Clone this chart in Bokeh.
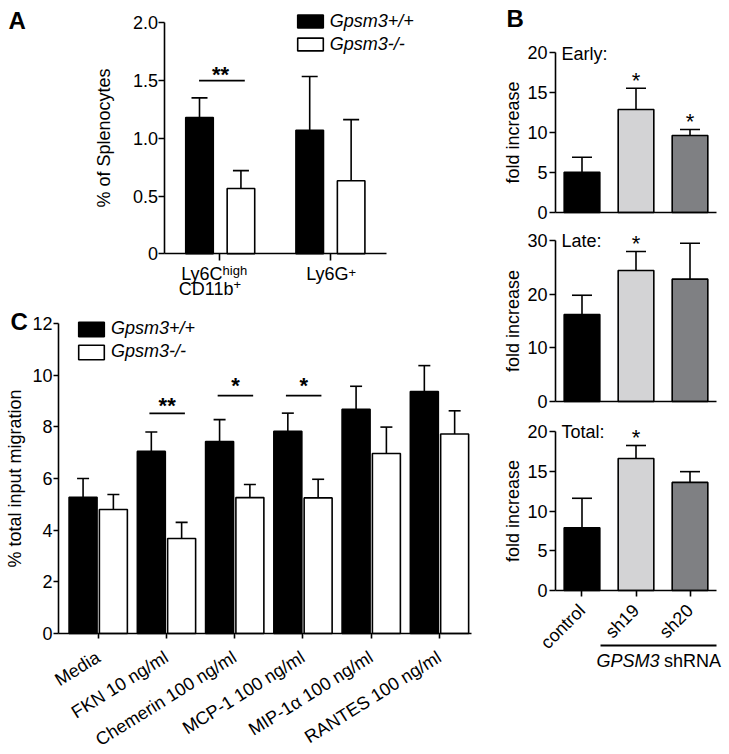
import math
import numpy as np
from bokeh.plotting import figure
from bokeh.models import (ColumnDataSource, Range1d, FixedTicker, Label, Legend, LegendItem,
                          Whisker, TeeHead, Arrow, CustomJSTickFormatter, LinearAxis)
from bokeh.embed import file_html
from bokeh.resources import INLINE

FONT = "Liberation Sans"

# ---------------- Panel A data ----------------
a_categories = ["Ly6C high CD11b+", "Ly6G+"]
a_label_main = ["Ly6C", "CD11b", "Ly6G"]
a_label_sup = ["high", "+", "+"]
a_wt_mean = [1.18, 1.07]
a_wt_sem = [0.17, 0.465]
a_ko_mean = [0.565, 0.632]
a_ko_sem = [0.155, 0.53]
a_sig_index = [0]
a_sig_height = [1.5]
a_sig_text = ["**"]
a_yticks = [0, 0.5, 1.0, 1.5, 2.0]
a_legend = ["Gpsm3+/+", "Gpsm3-/-"]

# ---------------- Panel B data ----------------
b_categories = ["control", "sh19", "sh20"]
b_colors = ["#000000", "#d3d3d5", "#7f8083"]
b_early_mean = [5.04, 12.88, 9.62]
b_early_sem = [1.87, 2.66, 0.75]
b_early_sig = ["", "*", "*"]
b_late_mean = [16.2, 24.4, 22.8]
b_late_sem = [3.6, 3.55, 6.7]
b_late_sig = ["", "*", ""]
b_total_mean = [7.9, 16.6, 13.6]
b_total_sem = [3.7, 1.64, 1.35]
b_total_sig = ["", "*", ""]

# ---------------- Panel C data ----------------
c_categories = ["Media", "FKN 10 ng/ml", "Chemerin 100 ng/ml", "MCP-1 100 ng/ml",
                "MIP-1\u03b1 100 ng/ml", "RANTES 100 ng/ml"]
c_wt_mean = [5.27, 7.05, 7.43, 7.83, 8.68, 9.37]
c_wt_sem = [0.73, 0.75, 0.85, 0.70, 0.89, 1.00]
c_ko_mean = [4.80, 3.68, 5.26, 5.25, 6.97, 7.72]
c_ko_sem = [0.58, 0.62, 0.51, 0.72, 1.02, 0.90]
c_sig_index = [1, 2, 3]
c_sig_height = [8.52, 9.21, 9.21]
c_sig_text = ["**", "*", "*"]
c_yticks = [0, 2, 4, 6, 8, 10, 12]

LW = 1.6
W, H = 729, 754
MARGIN = 0

p = figure(width=W, height=H, x_range=Range1d(0, W), y_range=Range1d(0, H),
           x_axis_type=None, y_axis_type=None, output_backend="svg",
           toolbar_location=None, min_border=0)
p.outline_line_color = None
p.background_fill_color = "white"
p.border_fill_color = "white"


def panel(name, xr, px_x, yr, px_y):
    """Create named ranges so that data range xr/yr falls on page pixels px_x/px_y."""
    x0, x1 = xr
    a0, a1 = px_x[0] - MARGIN, px_x[1] - MARGIN
    sx = (x1 - x0) / (a1 - a0)
    p.extra_x_ranges[name] = Range1d(x0 - a0 * sx, x0 + (W - a0) * sx)
    y0, y1 = yr
    b0, b1 = px_y[0] - MARGIN, px_y[1] - MARGIN   # b0: pixel of y0 (bottom), b1: pixel of y1
    sy = (y1 - y0) / (b0 - b1)
    d0 = H - b0
    p.extra_y_ranges[name] = Range1d(y0 - d0 * sy, y0 + (H - d0) * sy)


def style_axis(ax):
    ax.axis_line_width = LW
    ax.axis_line_color = "black"
    ax.major_tick_line_width = LW
    ax.major_tick_line_color = "black"
    ax.major_tick_in = 0
    ax.major_tick_out = 6
    ax.minor_tick_line_color = None
    ax.minor_tick_out = 0
    ax.major_label_text_font = FONT
    ax.major_label_text_font_size = "18px"
    ax.major_label_text_color = "black"
    ax.axis_label_text_font = FONT
    ax.axis_label_text_font_size = "18px"
    ax.axis_label_text_font_style = "normal"
    ax.axis_label_text_color = "black"


def axes(name, xr, yr, xticks, yticks, ylabel, xformatter=None, yformatter=None):
    xa = LinearAxis(x_range_name=name, y_range_name=name, fixed_location=yr[0],
                    bounds=xr, ticker=FixedTicker(ticks=xticks))
    ya = LinearAxis(x_range_name=name, y_range_name=name, fixed_location=xr[0],
                    bounds=yr, ticker=FixedTicker(ticks=yticks), axis_label=ylabel)
    style_axis(xa)
    style_axis(ya)
    if xformatter is not None:
        xa.formatter = xformatter
    if yformatter is not None:
        ya.formatter = yformatter
    p.add_layout(xa, "below")
    p.add_layout(ya, "left")
    return xa, ya


def lab(name, x, y, text, size="18px", style="normal", align="left", yo=0):
    p.add_layout(Label(x=x, y=y, text=text, x_range_name=name, y_range_name=name,
                       text_font=FONT, text_font_size=size, text_font_style=style,
                       text_align=align, text_baseline="middle", y_offset=yo,
                       text_color="black"))


def bars_with_err(name, x, mean, sem, width, fill, cap):
    up = np.add(mean, sem)
    src = ColumnDataSource(dict(x=x, top=mean, up=up, fill=fill))
    r = p.vbar(x="x", top="top", bottom=0, width=width, source=src, fill_color="fill",
               line_color="black", line_width=LW, x_range_name=name, y_range_name=name)
    p.add_layout(Whisker(source=src, base="x", upper="up", lower="top", dimension="height",
                         line_color="black", line_width=LW,
                         x_range_name=name, y_range_name=name,
                         upper_head=TeeHead(size=cap, line_width=LW, line_color="black"),
                         lower_head=None))
    return r


def legend(renderers, labels, loc, gh):
    lg = Legend(items=[LegendItem(label=l, renderers=[r]) for l, r in zip(labels, renderers)],
                location=loc, glyph_width=32, glyph_height=gh, label_height=gh,
                spacing=2, padding=0, margin=0, label_standoff=4,
                border_line_color=None, background_fill_alpha=0,
                label_text_font=FONT, label_text_font_size="18px",
                label_text_font_style="italic", label_text_color="black")
    p.add_layout(lg)


empty = CustomJSTickFormatter(code="return '';")

# ================= Panel A =================
AX = (-0.5, 1.51)
AY = (0, 2.0)
panel("A", AX, (164.4, 385.9), AY, (253.3, 22.3))
ia = np.arange(len(a_categories))
rA1 = bars_with_err("A", ia - 0.186, a_wt_mean, a_wt_sem, 0.25, ["black"] * 2, 16)
rA2 = bars_with_err("A", ia + 0.19, a_ko_mean, a_ko_sem, 0.25, ["white"] * 2, 16)
xa, ya = axes("A", AX, AY, list(ia), a_yticks, "% of Splenocytes", xformatter=empty,
              yformatter=CustomJSTickFormatter(code="return tick == 0 ? '0' : tick.toFixed(1);"))
xa.major_tick_out = 7
ya.major_label_standoff = 1
ya.axis_label_standoff = 15
sig_x = np.array(a_sig_index, dtype=float)
p.segment(x0=sig_x - 0.19, x1=sig_x + 0.225, y0=a_sig_height, y1=a_sig_height,
          line_color="black", line_width=1.8, x_range_name="A", y_range_name="A")
for i, h, t in zip(a_sig_index, a_sig_height, a_sig_text):
    lab("A", i + 0.005, h, t, size="22px", style="bold", align="center", yo=6)
a_lab_x = [0.023, 0.123, 1.166]
a_lab_y = [-0.175, -0.305, -0.175]
a_sup_y = [-0.145, -0.283, -0.175]
a_sup_yo = [0, 2, 2]
for m, s, x, y, ys, yo in zip(a_label_main, a_label_sup, a_lab_x, a_lab_y, a_sup_y, a_sup_yo):
    lab("A", x, y, m, align="right")
    lab("A", x, ys, s, size="13px", align="left", yo=yo)
lab("A", -1.919, 2.016, "A", size="24px", style="bold")
legend([rA1, rA2], a_legend, (293.8, 699.4), 16)

# ================= Panel C =================
CX = (-0.582, 5.469)
CY = (0, 12)
panel("C", CX, (58, 471), CY, (633, 323))
ic = np.arange(len(c_categories))
rC1 = bars_with_err("C", ic - 0.222, c_wt_mean, c_wt_sem, 0.41, ["black"] * 6, 12)
rC2 = bars_with_err("C", ic + 0.222, c_ko_mean, c_ko_sem, 0.41, ["white"] * 6, 12)
xc, yc = axes("C", CX, CY, list(ic), c_yticks, "% total input migration",
              xformatter=CustomJSTickFormatter(args=dict(labels=c_categories),
                                               code="return labels[Math.round(tick)] || '';"))
yc.major_tick_out = 5
yc.major_label_standoff = 1
yc.axis_label_standoff = 4
xc.major_tick_out = 5
xc.major_label_standoff = 17
xc.major_label_orientation = math.radians(32)
csx = np.array(c_sig_index, dtype=float)
p.segment(x0=csx - 0.25, x1=csx + 0.27, y0=c_sig_height, y1=c_sig_height,
          line_color="black", line_width=1.8, x_range_name="C", y_range_name="C")
c_sig_yo = [8, 10, 10]
for i, h, t, yo in zip(c_sig_index, c_sig_height, c_sig_text, c_sig_yo):
    lab("C", i + 0.01, h, t, size="22px", style="bold", align="center", yo=yo)
lab("C", -1.285, 12.06, "C", size="24px", style="bold")
legend([rC1, rC2], a_legend, (75, 391.9), 18)

# ================= Panel B =================
BX = (-0.4907, 2.4907)


def b_panel(name, yr, px_y, yticks, mean, sem, sig, heading, bottom_labels=False, head_yo=0):
    panel(name, BX, (555, 716), yr, px_y)
    ib = np.arange(len(b_categories))
    bars_with_err(name, ib, mean, sem, 0.66, b_colors, 20)
    if bottom_labels:
        fx = CustomJSTickFormatter(args=dict(labels=b_categories),
                                   code="return labels[Math.round(tick)] || '';")
        xt = list(ib)
    else:
        fx = empty
        xt = []
    xb, yb = axes(name, BX, yr, xt, yticks, "fold increase", xformatter=fx)
    yb.major_label_standoff = 2
    yb.axis_label_standoff = 1
    if bottom_labels:
        xb.major_label_orientation = math.pi / 4
        xb.major_label_standoff = 11
    else:
        xb.major_tick_out = 0
    for i, (m, s, t) in enumerate(zip(mean, sem, sig)):
        if t:
            lab(name, i, m + s, t, size="22px", align="center", yo=8)
    lab(name, -0.38, yr[1], heading, yo=head_yo)


b_panel("B1", (0, 20), (212, 52), [0, 5, 10, 15, 20], b_early_mean, b_early_sem, b_early_sig,
        "Early:", head_yo=-1)
lab("B1", -1.398, 24.19, "B", size="24px", style="bold")
b_panel("B2", (0, 30), (401, 240), [0, 10, 20, 30], b_late_mean, b_late_sem, b_late_sig, "Late:")
b_panel("B3", (0, 20), (590, 431), [0, 5, 10, 15, 20], b_total_mean, b_total_sem, b_total_sig,
        "Total:", bottom_labels=True)
p.add_layout(Arrow(x_start=0.343, y_start=-6.92, x_end=BX[1], y_end=-6.92, start=None, end=None,
                   line_color="black", line_width=2, x_range_name="B3", y_range_name="B3"))
lab("B3", 0.269, -8.93, "GPSM3", style="italic")
lab("B3", 1.519, -8.93, "shRNA")

open("out.html", "w").write(file_html(p, INLINE))
